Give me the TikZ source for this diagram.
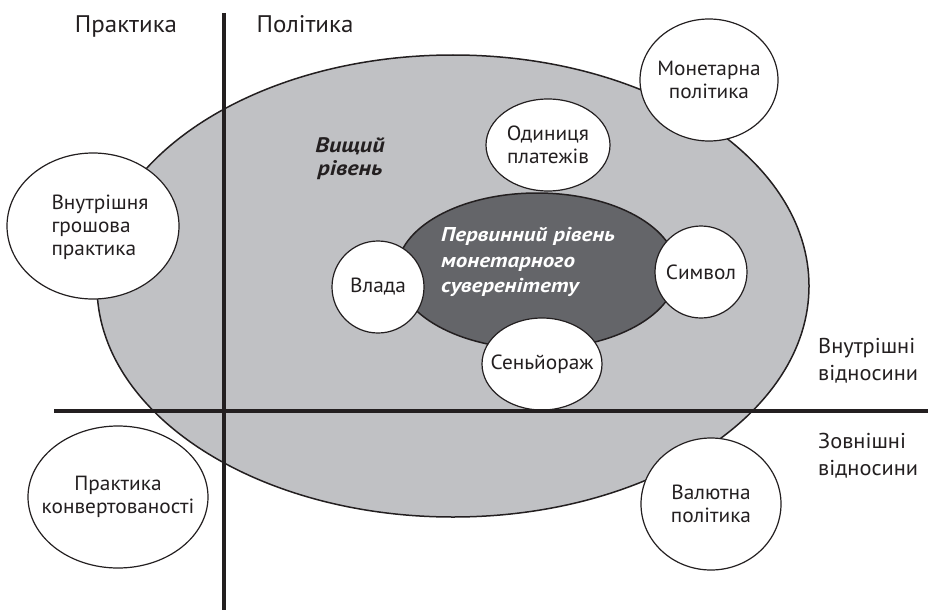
\documentclass[tikz,border=0pt]{standalone}
\usepackage{fontspec}
\setmainfont[FakeStretch=1.04]{PT Sans}
\newfontfamily\primaryfont[FakeStretch=1.15]{PT Sans}
\usetikzlibrary{shapes.geometric}
\definecolor{outergray}{RGB}{192,193,196}
\definecolor{innergray}{RGB}{100,101,105}
\definecolor{inkblack}{RGB}{35,31,32}

\begin{document}
\begin{tikzpicture}[x=1pt,y=-1pt,
    level/.style={ellipse,draw=inkblack,line width=1.5pt,inner sep=0pt},
    bubble/.style={ellipse,draw=inkblack,line width=1.2pt,fill=white,inner sep=0pt},
    bubbletext/.style={align=center,inner sep=0pt,text=inkblack,font=\fontsize{20.5}{23}\selectfont},
    axislabel/.style={anchor=base,inner sep=0pt,text=inkblack,font=\fontsize{24}{28}\selectfont},
    sidelabel/.style={anchor=west,align=left,inner sep=0pt,text=inkblack,font=\fontsize{21.5}{27}\selectfont},
    divider/.style={draw=inkblack,line width=4.5pt}]
    \useasboundingbox (0,0) rectangle (928,610);

    % levels
    \node[level,fill=outergray,minimum width=712pt,minimum height=462pt] (upper) at (453,286) {};
    \node[level,fill=innergray,minimum width=280pt,minimum height=156pt] (primary) at (537,271) {};
    \node[align=center,inner sep=0pt,text=inkblack,font=\fontsize{21}{23}\selectfont\primaryfont\bfseries\itshape]
        (uppertext) at (350,159) {Вищий\\рівень};
    \node[anchor=west,align=left,inner sep=0pt,text=white,font=\fontsize{20}{25.5}\selectfont\primaryfont\bfseries\itshape]
        (primarytext) at (441,262) {Первинний рівень\\монетарного\\суверенітету};

    % bubbles
    \node[bubble,minimum width=138pt,minimum height=122pt] (monetary) at (709,80) {};
    \node[bubbletext] (monetarytext) at (monetary) {Монетарна\\політика};
    \node[bubble,minimum width=124pt,minimum height=92pt] (unit) at (548,145) {};
    \node[bubbletext] (unittext) at (unit) {Одиниця\\платежів};
    \node[bubble,minimum width=172pt,minimum height=146pt] (domestic) at (93,226) {};
    \node[bubbletext,align=left] (domestictext) at (100,227) {Внутрішня\\грошова\\практика};
    \node[bubble,minimum width=92pt,minimum height=92pt] (power) at (378,287) {};
    \node[bubbletext] (powertext) at (power) {Влада};
    \node[bubble,minimum width=92pt,minimum height=92pt] (symbol) at (701,272) {};
    \node[bubbletext] (symboltext) at (symbol) {Символ};
    \node[bubble,minimum width=120pt,minimum height=92pt] (seigniorage) at (542,364) {};
    \node[bubbletext] (seigniorawetext) at (seigniorage) {Сеньйораж};
    \node[bubble,minimum width=180pt,minimum height=142pt] (convert) at (118,497) {};
    \node[bubbletext] (converttext) at (convert) {Практика\\конвертованості};
    \node[bubble,minimum width=140pt,minimum height=132pt] (currency) at (711,504) {};
    \node[bubbletext] (currencytext) at (currency) {Валютна\\політика};

    % axes
    \coordinate (vtop) at (224,13);
    \coordinate (vbot) at (224,610);
    \coordinate (hleft) at (54,411);
    \coordinate (hright) at (928,411);
    \draw[divider] (vtop) -- (vbot);
    \draw[divider] (hleft) -- (hright);

    \node[axislabel] (practice) at (126,33) {Практика};
    \node[axislabel] (policy) at (305,33) {Політика};
    \node[sidelabel] (internal) at (818,361) {Внутрішні\\відносини};
    \node[sidelabel] (external) at (818,456) {Зовнішні\\відносини};
\end{tikzpicture}
\end{document}
